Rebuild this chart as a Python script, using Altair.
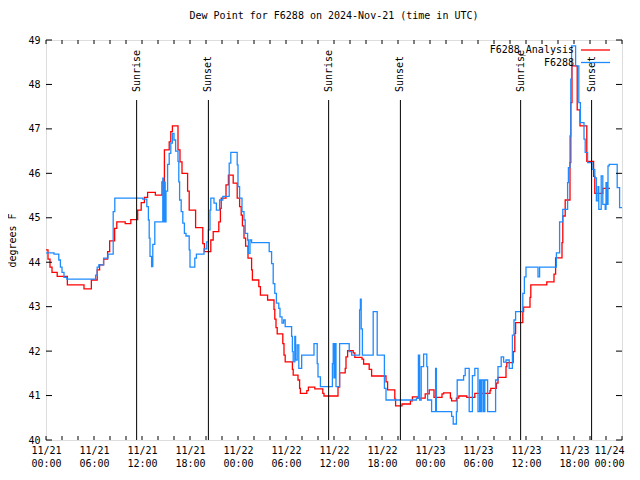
import altair as alt
import pandas as pd

# ---- data (hours since 2024-11-21 00:00 UTC, dew point in F) ----
analysis_hours = [0, 0.25, 0.5, 0.75, 1.4, 2.67, 4.75, 5.67, 6.4, 6.7, 7.2, 7.7, 7.96, 8.58, 8.85,
                  9.9, 10.6, 11.46, 11.6, 11.9, 12.3, 12.7, 13.67, 14.5, 14.8, 15.4, 15.6, 15.8,
                  16.5, 16.75, 17.0, 17.7, 17.9, 18.7, 19.6, 19.8, 20.6, 20.9, 21.6, 21.8, 21.9,
                  22.5, 22.8, 23.4, 23.9, 24.2, 24.4, 24.55, 24.75, 24.95, 25.25, 25.7, 25.8,
                  26.6, 26.8, 27.7, 28.5, 28.6, 28.75, 28.9, 29.6, 29.75, 29.9, 30.8, 30.9, 31.5,
                  31.7, 31.8, 32.6, 32.8, 33.6, 34.6, 34.75, 36.5, 36.7, 37.4, 37.5, 37.7, 38.4,
                  38.6, 39.5, 39.7, 40.4, 40.7, 42.5, 42.7, 43.6, 43.7, 44.5, 45.55, 45.8, 46.45,
                  47.4, 47.9, 48.5, 49.5, 49.7, 50.55, 50.7, 51.3, 51.6, 52.6, 53.6, 55.5, 55.6,
                  56.3, 56.5, 57.5, 57.6, 58.4, 58.6, 58.7, 59.6, 59.7, 60.5, 60.6, 62.6, 63.5,
                  63.7, 64.5, 64.6, 64.9, 65.5, 65.6, 65.75, 66.4, 66.75, 67.6, 68.45, 68.6, 69.6,
                  70.5]
analysis_dewpt = [44.28, 44.07, 43.89, 43.77, 43.68, 43.49, 43.40, 43.60, 43.83, 43.94, 44.07, 44.24,
                  44.48, 44.76, 44.91, 44.87, 44.96, 45.17, 45.17, 45.34, 45.46, 45.57, 45.51, 45.81,
                  46.53, 46.71, 46.94, 47.07, 46.53, 46.26, 46.00, 45.60, 45.17, 44.78, 44.42, 44.24,
                  44.50, 44.69, 44.91, 45.21, 45.44, 45.74, 45.96, 45.78, 45.44, 45.25, 45.06, 44.82,
                  44.54, 44.36, 44.09, 43.83, 43.60, 43.45, 43.26, 43.15, 42.94, 42.72, 42.53, 42.39,
                  42.17, 41.91, 41.76, 41.59, 41.46, 41.35, 41.16, 41.05, 41.11, 41.19, 41.15, 41.05,
                  40.99, 41.19, 41.51, 41.61, 41.87, 42.01, 41.96, 41.86, 41.82, 41.71, 41.59, 41.44,
                  41.31, 41.13, 40.92, 40.77, 40.81, 40.88, 40.97, 40.94, 41.04, 41.13, 40.96, 41.04,
                  41.06, 40.94, 40.88, 40.94, 40.99, 40.96, 41.05, 41.11, 41.16, 41.28, 41.41, 41.65,
                  41.74, 41.99, 42.40, 42.64, 42.89, 42.99, 43.21, 43.49, 43.56, 43.73, 44.10, 44.44,
                  45.04, 45.40, 46.24, 47.59, 48.42, 47.43, 47.07, 46.27, 45.93, 45.55, 45.66, 45.66]

obs_hours = [0, 1.0, 1.6, 1.8, 2.0, 2.25, 2.6, 6.2, 6.4, 6.6, 7.2, 7.75, 8.4, 8.6, 12.1, 12.6, 12.8,
             12.9, 13.0, 13.2, 13.35, 13.6, 14.6, 14.7, 14.8, 14.9, 15.0, 15.2, 15.4, 15.6, 15.8,
             16.0, 16.2, 16.5, 16.6, 16.7, 16.9, 17.1, 17.3, 17.5, 17.9, 18.0, 18.6, 18.8, 19.75,
             20.1, 20.3, 20.5, 20.6, 21.0, 21.3, 21.7, 22.1, 22.9, 23.1, 23.9, 24.0, 24.2, 24.5,
             24.75, 24.9, 25.2, 25.3, 25.5, 25.7, 27.9, 28.2, 28.4, 28.6, 28.8, 29.1, 29.25, 29.5,
             29.7, 29.9, 30.7, 30.8, 30.9, 31.1, 31.2, 31.4, 31.6, 31.96, 33.5, 33.9, 34.0, 34.3,
             35.8, 35.9, 36.0, 36.1, 36.25, 36.7, 37.9, 38.2, 39.2, 39.3, 39.4, 39.55, 39.7, 40.9,
             41.4, 42.3, 42.5, 46.3, 46.55, 46.7, 46.9, 47.2, 47.6, 47.7, 48.2, 48.7, 48.8, 50.7,
             50.9, 51.3, 51.4, 52.2, 52.4, 52.9, 53.3, 53.6, 54.0, 54.2, 54.35, 54.5, 54.7, 54.85,
             55.2, 56.2, 56.5, 56.9, 57.2, 57.5, 57.9, 58.3, 58.5, 58.7, 59.6, 59.8, 60.0, 61.5,
             61.7, 63.8, 64.2, 64.6, 65.2, 65.3, 65.5, 65.6, 65.7, 66.2, 66.6, 66.8, 67.25, 67.4,
             67.7, 68.25, 68.6, 68.8, 69.0, 69.1, 69.4, 69.6, 69.9, 70.0, 70.1, 70.25, 70.4, 71.4,
             71.7, 72.0]
obs_dewpt = [44.21, 44.18, 44.05, 43.89, 43.77, 43.66, 43.62, 43.71, 43.89, 43.94, 44.09, 44.18,
             45.14, 45.44, 45.42, 45.25, 44.95, 44.54, 44.13, 43.90, 44.40, 44.91, 45.89, 44.91,
             45.80, 44.91, 45.60, 46.20, 46.45, 46.68, 46.90, 46.75, 46.50, 46.27, 45.81, 45.40,
             45.14, 44.88, 44.65, 44.59, 44.28, 43.89, 44.09, 44.18, 44.30, 44.46, 44.73, 45.17,
             45.44, 45.33, 45.17, 45.40, 45.48, 46.23, 46.47, 46.19, 45.70, 45.44, 45.14, 44.95,
             44.65, 44.50, 44.20, 44.50, 44.44, 44.24, 43.97, 43.52, 43.30, 43.08, 42.96, 42.77,
             42.63, 42.70, 42.55, 42.33, 41.99, 41.76, 42.33, 41.80, 42.14, 41.61, 41.91, 42.17,
             41.72, 41.42, 41.20, 41.72, 42.17, 41.40, 42.17, 41.20, 42.17, 41.99, 41.91, 42.93,
             43.17, 42.50, 41.91, 41.91, 42.89, 41.91, 41.16, 40.90, 40.94, 41.91, 40.90, 41.65,
             41.93, 41.65, 40.90, 40.64, 41.61, 40.64, 40.53, 40.36, 40.64, 41.35, 41.45, 41.61,
             40.64, 41.45, 41.61, 40.64, 41.35, 40.64, 41.35, 40.64, 41.35, 40.64, 41.35, 41.65,
             41.87, 41.75, 41.80, 41.61, 42.36, 42.70, 42.89, 43.30, 43.67, 43.89, 43.67, 43.89,
             44.21, 44.91, 45.19, 45.79, 46.13, 46.84, 48.12, 48.87, 48.42, 47.59, 47.14, 46.77,
             46.47, 46.24, 46.09, 45.90, 45.38, 45.70, 45.19, 45.94, 45.30, 45.19, 45.79, 45.30,
             46.17, 46.20, 45.68, 45.23, 45.23]

sun_hours = [11.33, 20.3, 35.33, 44.3, 59.33, 68.2]
sun_labels = ["Sunrise", "Sunset", "Sunrise", "Sunset", "Sunrise", "Sunset"]

x_major = list(range(0, 73, 6))
x_minor = list(range(0, 73, 2))
y_ticks = list(range(40, 50))

legend_names = ["F6288_Analysis", "F6288"]
RED = "#ff0000"
BLUE = "#1e8cff"
FONT = "DejaVu Sans Mono"

W, H = 576, 400

df_a = pd.DataFrame({"h": analysis_hours, "v": analysis_dewpt})
df_o = pd.DataFrame({"h": obs_hours, "v": obs_dewpt})
df_sun = pd.DataFrame({"h": sun_hours, "label": sun_labels})
df_xt = pd.DataFrame({"h": x_minor})
df_yt = pd.DataFrame({"v": y_ticks})

xs = alt.Scale(domain=[0, 72], nice=False, zero=False)
ys = alt.Scale(domain=[40, 49], nice=False, zero=False)

label_expr = ("['11/' + (21 + floor(datum.value / 24)), "
              "(datum.value % 24 < 10 ? '0' : '') + (datum.value % 24) + ':00']")

x_axis = alt.Axis(values=x_major, labelExpr=label_expr, ticks=False, grid=False, domain=False,
                  labelFont=FONT, labelFontSize=10, labelColor="black", labelPadding=5,
                  labelLineHeight=13, labelFlush=False, labelOverlap=False, labelBaseline="top",
                  labelAlign={"expr": "datum.value >= 72 ? 'right' : 'center'"},
                  labelOffset={"expr": "datum.value >= 72 ? 2 : 0"},
                  title=None)
y_axis = alt.Axis(values=y_ticks, ticks=False, grid=False, domain=False, labelFont=FONT,
                  labelFontSize=10, labelColor="black", labelPadding=6, labelFlush=False,
                  labelOverlap=False, title="degrees F", titleFont=FONT, titleFontSize=10,
                  titleFontWeight="normal", titleColor="black", titlePadding=10)


def X():
    return alt.X("h:Q", scale=xs, axis=x_axis)


def Y():
    return alt.Y("v:Q", scale=ys, axis=y_axis)


red_line = alt.Chart(df_a).mark_line(interpolate="step-after", color=RED, strokeWidth=1.3, clip=True).encode(
    x=X(), y=Y())
blue_line = alt.Chart(df_o).mark_line(interpolate="step-after", color=BLUE, strokeWidth=1.3, clip=True).encode(
    x=X(), y=Y())

sun_rules = alt.Chart(df_sun).mark_rule(color="black", strokeWidth=1).encode(
    x=X(), y=alt.value(60), y2=alt.value(H)
)
sun_text = alt.Chart(df_sun).mark_text(angle=270, align="left", baseline="middle", font=FONT,
                                       fontSize=10, color="black").encode(
    x=X(), y=alt.value(52), text="label:N"
)

xt_bottom = alt.Chart(df_xt).mark_rule(color="black").encode(
    x=X(), y=alt.value(H - 4), y2=alt.value(H))
xt_top = alt.Chart(df_xt).mark_rule(color="black").encode(
    x=X(), y=alt.value(0), y2=alt.value(4))
yt_left = alt.Chart(df_yt).mark_rule(color="black").encode(
    y=Y(), x=alt.value(0), x2=alt.value(6))
yt_right = alt.Chart(df_yt).mark_rule(color="black").encode(
    y=Y(), x=alt.value(W - 6), x2=alt.value(W))

leg_rows = []
for i, (name, col) in enumerate(zip(legend_names, [RED, BLUE])):
    ypx = 10 + i * 12.5
    leg_rows.append(alt.Chart(pd.DataFrame({"t": [name]})).mark_text(
        align="right", baseline="middle", font=FONT, fontSize=10, color="black").encode(
        text="t:N", x=alt.value(528), y=alt.value(ypx)))
    leg_rows.append(alt.Chart(pd.DataFrame({"t": [name]})).mark_rule(color=col, strokeWidth=1.3).encode(
        x=alt.value(535), x2=alt.value(564), y=alt.value(ypx)))

chart = alt.layer(
    red_line, blue_line, sun_rules, sun_text, xt_bottom, xt_top, yt_left, yt_right, *leg_rows
).properties(
    width=W, height=H,
    title=alt.TitleParams("Dew Point for F6288 on 2024-Nov-21 (time in UTC)", font=FONT, fontSize=10,
                          fontWeight="normal", color="black", anchor="middle", offset=14),
    autosize=alt.AutoSizeParams(type="none"),
    padding={"left": 38, "top": 32, "right": 10, "bottom": 30},
).configure_view(stroke="black", strokeWidth=1).configure(background="white")

chart.save("out.html", embed_options={"renderer": "svg", "actions": False})
